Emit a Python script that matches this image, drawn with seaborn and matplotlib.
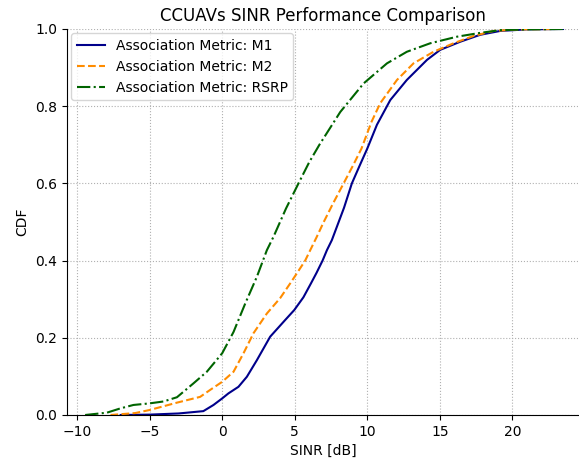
import matplotlib
matplotlib.use("Agg")
import matplotlib.pyplot as plt
import seaborn as sns
import pandas as pd

# CDF curves (SINR in dB, CDF value)
m1_sinr = [-7.0, -5.0, -3.0, -1.3, -0.6, 0.0, 0.43, 1.12, 1.7, 2.39, 3.31, 4.34,
           4.97, 5.6, 6.12, 6.5, 6.92, 7.22, 7.56, 8.4, 8.94, 9.5, 10.0, 10.67,
           11.59, 12.73, 14.12, 15.03, 16.41, 17.79, 19.17, 21.0, 23.5]
m1_cdf = [0.0, 0.001, 0.004, 0.01, 0.026, 0.043, 0.056, 0.073, 0.099, 0.142,
          0.203, 0.246, 0.272, 0.305, 0.341, 0.368, 0.40, 0.427, 0.453, 0.537,
          0.60, 0.648, 0.69, 0.752, 0.816, 0.868, 0.920, 0.946, 0.967, 0.985,
          0.995, 0.999, 1.0]

m2_sinr = [-7.7, -6.0, -5.0, -3.12, -1.52, -0.83, 0.0, 0.78, 1.47, 2.16, 3.08,
           4.0, 4.69, 5.2, 5.72, 6.07, 6.5, 7.0, 7.6, 8.37, 9.0, 9.6, 10.3, 10.9,
           12.05, 13.19, 14.57, 15.95, 17.33, 18.71, 20.5, 23.0]
m2_cdf = [0.0, 0.005, 0.013, 0.032, 0.047, 0.065, 0.086, 0.112, 0.160, 0.212,
          0.263, 0.303, 0.341, 0.37, 0.40, 0.427, 0.46, 0.50, 0.545, 0.60, 0.645,
          0.69, 0.76, 0.808, 0.868, 0.911, 0.941, 0.963, 0.982, 0.995, 0.999, 1.0]

rsrp_sinr = [-9.45, -7.95, -7.03, -6.12, -5.03, -4.05, -3.12, -1.98, -1.06, 0.0,
             0.78, 1.59, 2.39, 3.08, 3.54, 4.4, 5.26, 6.0, 6.7, 8.14, 9.75,
             11.36, 12.73, 14.34, 16.18, 17.79, 19.17, 21.0, 23.5]
rsrp_cdf = [0.0, 0.006, 0.017, 0.026, 0.030, 0.035, 0.046, 0.082, 0.112, 0.16,
            0.215, 0.289, 0.358, 0.427, 0.462, 0.535, 0.60, 0.655, 0.70, 0.785,
            0.859, 0.911, 0.941, 0.963, 0.980, 0.990, 0.997, 0.999, 1.0]

labels = ["Association Metric: M1", "Association Metric: M2", "Association Metric: RSRP"]
colors = ["darkblue", "darkorange", "darkgreen"]

df = pd.concat([
    pd.DataFrame({"SINR": m1_sinr, "CDF": m1_cdf, "metric": labels[0]}),
    pd.DataFrame({"SINR": m2_sinr, "CDF": m2_cdf, "metric": labels[1]}),
    pd.DataFrame({"SINR": rsrp_sinr, "CDF": rsrp_cdf, "metric": labels[2]}),
])

fig = plt.figure(figsize=(5.79, 4.66), dpi=100)
ax = fig.add_axes([67 / 579, 51 / 466, 1 - 67 / 579, 386 / 466])

sns.lineplot(
    data=df,
    x="SINR",
    y="CDF",
    hue="metric",
    style="metric",
    palette=dict(zip(labels, colors)),
    dashes={labels[0]: "", labels[1]: (3.7, 1.6), labels[2]: (6.4, 1.6, 1.0, 1.6)},
    estimator=None,
    sort=False,
    linewidth=1.5,
    ax=ax,
)

ax.set_xlim(-10.7, 24.6)
ax.set_ylim(0, 1)
ax.set_xticks([-10, -5, 0, 5, 10, 15, 20])
ax.set_yticks([0.0, 0.2, 0.4, 0.6, 0.8, 1.0])
ax.grid(True, linestyle=":", color="#b0b0b0", linewidth=0.8)
sns.despine(ax=ax)

ax.set_xlabel("SINR [dB]")
ax.set_ylabel("CDF")
ax.set_title("CCUAVs SINR Performance Comparison", fontsize=12)

handles, lbls = ax.get_legend_handles_labels()
ax.legend(handles, lbls, loc="upper left", borderaxespad=0.3)

fig.savefig("out.png", dpi=100)
